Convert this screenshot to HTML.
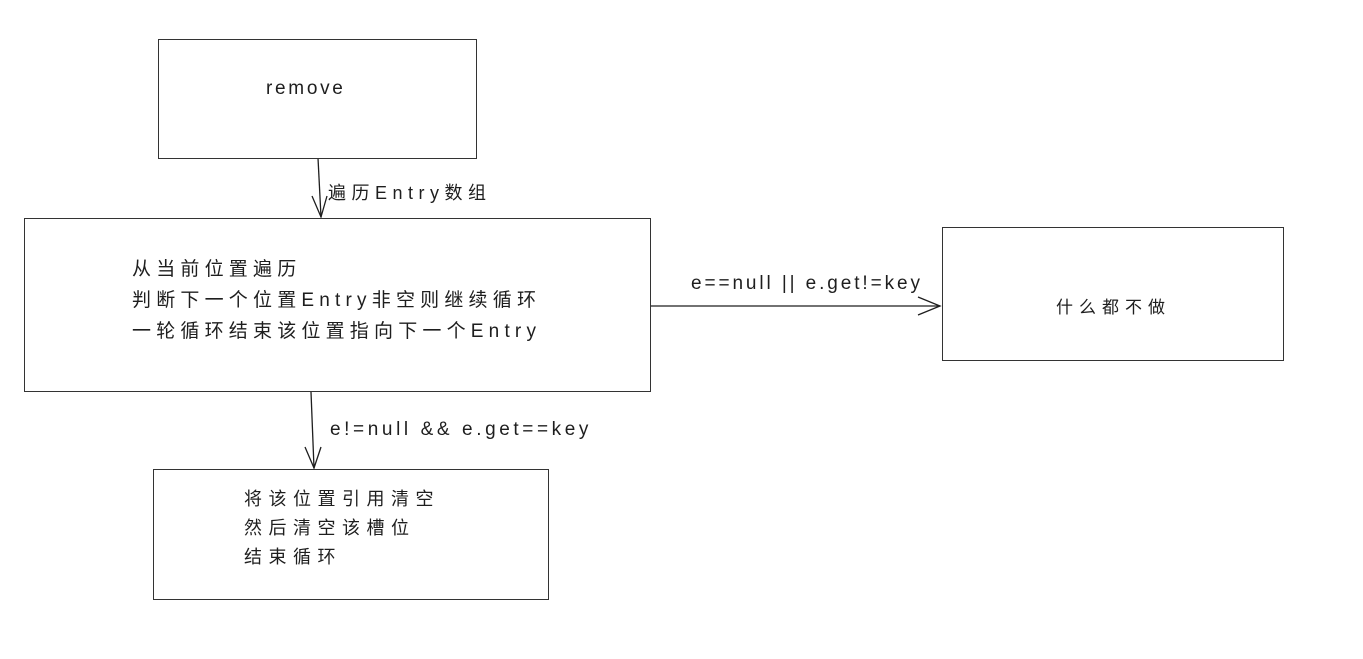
<!DOCTYPE html>
<html><head><meta charset="utf-8"><style>
body{margin:0;width:1363px;height:659px;background:#fff;position:relative;overflow:hidden;font-family:"Liberation Sans","Noto Sans CJK SC",sans-serif;color:#1e1e1e}
.b{position:absolute;border:1.5px solid #333;box-sizing:border-box;background:#fff}
.t{position:absolute;font-size:19px;line-height:31px;white-space:nowrap}
</style></head><body>
<svg width="1363" height="659" style="position:absolute;left:0;top:0">
<g stroke="#1e1e1e" stroke-width="1.3" fill="none">
<line x1="318" y1="158" x2="321" y2="217"/>
<polyline points="312,196 321,217 327,196"/>
<line x1="650" y1="306" x2="940" y2="306"/>
<polyline points="918,297 940,306 918,315"/>
<line x1="311" y1="392" x2="314" y2="468"/>
<polyline points="305,447 314,468 321,447"/>
</g></svg>
<div class="b" style="left:158px;top:39px;width:319px;height:120px"></div>
<div class="b" style="left:24px;top:218px;width:627px;height:174px"></div>
<div class="b" style="left:942px;top:227px;width:342px;height:134px"></div>
<div class="b" style="left:153px;top:469px;width:396px;height:131px"></div>
<div class="t" style="left:266px;top:73px;letter-spacing:2.7px">remove</div>
<div class="t" style="left:328px;top:178px;font-size:18px;letter-spacing:5.5px">遍历Entry数组</div>
<div class="t" style="left:132px;top:254px;letter-spacing:5.2px">从当前位置遍历<br>判断下一个位置Entry非空则继续循环<br>一轮循环结束该位置指向下一个Entry</div>
<div class="t" style="left:691px;top:268px;letter-spacing:2.9px">e==null || e.get!=key</div>
<div class="t" style="left:1056px;top:292px;font-size:17px;letter-spacing:6px">什么都不做</div>
<div class="t" style="left:330px;top:414px;letter-spacing:3.6px">e!=null &amp;&amp; e.get==key</div>
<div class="t" style="left:244px;top:485px;font-size:18px;line-height:29px;letter-spacing:6.5px">将该位置引用清空<br>然后清空该槽位<br>结束循环</div>
</body></html>
